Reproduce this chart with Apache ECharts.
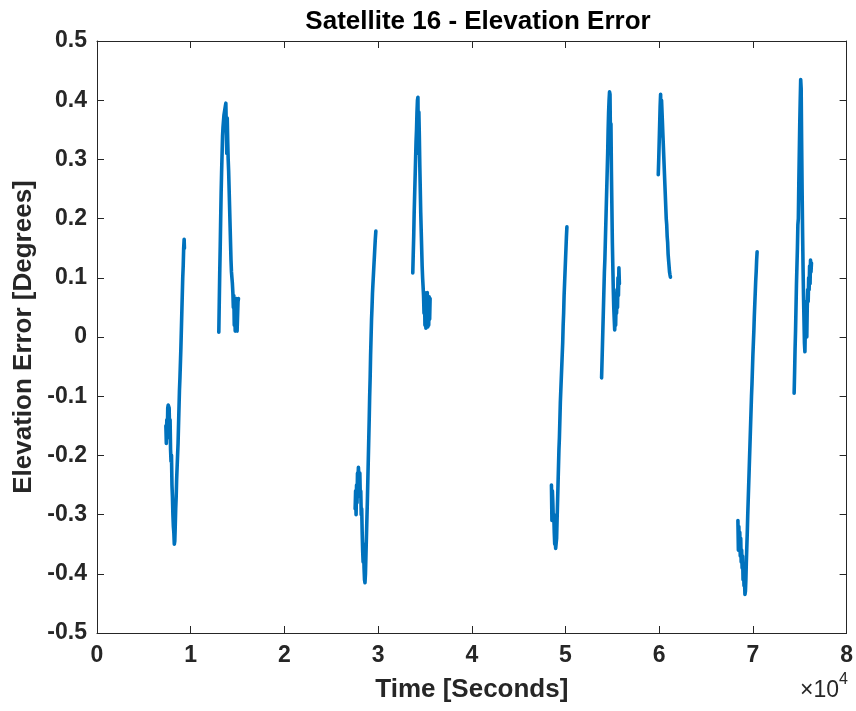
<!DOCTYPE html>
<html>
<head>
<meta charset="utf-8">
<script src="https://cdn.jsdelivr.net/npm/echarts@6/dist/echarts.min.js"></script>
<style>
  html, body { margin: 0; padding: 0; background: #ffffff; }
  #chart { width: 856px; height: 711px; }
</style>
</head>
<body>
<div id="chart"></div>
<script>
// Elevation error of satellite 16, one array per visible pass: [time (s), error (deg)]
const pass1 = [[7350,-0.15],[7400,-0.18],[7450,-0.14],[7500,-0.17],[7550,-0.12],[7600,-0.115],[7650,-0.112],[7700,-0.12],[7750,-0.16],[7800,-0.14],[7850,-0.19],[7900,-0.21],[7950,-0.20],[8000,-0.25],[8050,-0.27],[8100,-0.30],[8150,-0.32],[8200,-0.33],[8250,-0.35],[8300,-0.345],[8350,-0.32],[8400,-0.29],[8450,-0.27],[8500,-0.24],[8550,-0.22],[8600,-0.20],[8650,-0.18],[8700,-0.15],[8750,-0.12],[8800,-0.09],[8850,-0.07],[8900,-0.045],[8950,-0.02],[9000,0.01],[9050,0.04],[9100,0.07],[9150,0.10],[9200,0.12],[9250,0.15],[9300,0.165],[9330,0.15]];
const pass2 = [[13000,0.008],[13050,0.06],[13100,0.11],[13150,0.152],[13200,0.20],[13250,0.245],[13300,0.28],[13350,0.31],[13400,0.34],[13450,0.355],[13500,0.365],[13550,0.375],[13600,0.38],[13650,0.385],[13700,0.39],[13750,0.395],[13800,0.397],[13850,0.31],[13900,0.37],[13950,0.33],[14000,0.30],[14050,0.28],[14100,0.25],[14150,0.22],[14200,0.19],[14250,0.16],[14300,0.13],[14350,0.11],[14400,0.10],[14450,0.09],[14500,0.075],[14550,0.05],[14600,0.07],[14650,0.02],[14700,0.05],[14750,0.01],[14800,0.06],[14850,0.02],[14900,0.065],[14950,0.01],[15000,0.007],[15050,0.06],[15100,0.065]];
const pass3 = [[27550,-0.29],[27600,-0.26],[27650,-0.30],[27700,-0.25],[27750,-0.28],[27800,-0.23],[27850,-0.24],[27900,-0.22],[27950,-0.22],[28000,-0.25],[28050,-0.23],[28100,-0.27],[28150,-0.26],[28200,-0.30],[28250,-0.29],[28300,-0.33],[28350,-0.36],[28400,-0.38],[28450,-0.35],[28500,-0.39],[28550,-0.41],[28600,-0.415],[28650,-0.40],[28700,-0.37],[28750,-0.34],[28800,-0.31],[28850,-0.28],[28900,-0.245],[28950,-0.21],[29000,-0.175],[29050,-0.14],[29100,-0.10],[29150,-0.07],[29200,-0.03],[29250,0.0],[29300,0.03],[29350,0.05],[29400,0.074],[29450,0.09],[29500,0.105],[29550,0.12],[29600,0.135],[29650,0.15],[29700,0.165],[29760,0.179]];
const pass4 = [[33700,0.108],[33750,0.14],[33800,0.17],[33850,0.21],[33900,0.24],[33950,0.27],[34000,0.30],[34050,0.33],[34100,0.35],[34150,0.38],[34200,0.40],[34250,0.405],[34300,0.31],[34350,0.38],[34400,0.34],[34450,0.29],[34500,0.25],[34550,0.21],[34600,0.18],[34650,0.15],[34700,0.12],[34750,0.10],[34800,0.085],[34850,0.07],[34900,0.04],[34950,0.075],[35000,0.02],[35050,0.06],[35100,0.015],[35150,0.07],[35200,0.02],[35250,0.075],[35300,0.017],[35350,0.06],[35400,0.02],[35450,0.068],[35500,0.03],[35550,0.065]];
const pass5 = [[48500,-0.25],[48550,-0.31],[48600,-0.26],[48650,-0.28],[48700,-0.31],[48750,-0.30],[48800,-0.33],[48850,-0.35],[48900,-0.34],[48950,-0.357],[49000,-0.357],[49050,-0.34],[49100,-0.31],[49150,-0.28],[49200,-0.25],[49250,-0.22],[49300,-0.19],[49350,-0.17],[49400,-0.14],[49450,-0.11],[49500,-0.09],[49550,-0.07],[49600,-0.05],[49650,-0.03],[49700,-0.01],[49750,0.02],[49800,0.04],[49850,0.07],[49900,0.09],[49950,0.11],[50000,0.13],[50050,0.15],[50100,0.17],[50150,0.186]];
const pass6 = [[53850,-0.069],[53900,-0.04],[53950,-0.01],[54000,0.02],[54050,0.05],[54100,0.08],[54150,0.11],[54200,0.13],[54250,0.16],[54300,0.19],[54350,0.22],[54400,0.25],[54450,0.28],[54500,0.31],[54550,0.35],[54600,0.38],[54650,0.40],[54700,0.414],[54750,0.41],[54800,0.33],[54850,0.36],[54900,0.28],[54950,0.22],[55000,0.16],[55050,0.12],[55100,0.08],[55150,0.05],[55200,0.03],[55250,0.012],[55300,0.04],[55350,0.02],[55400,0.06],[55450,0.04],[55500,0.08],[55550,0.05],[55600,0.10],[55650,0.07],[55700,0.117],[55750,0.09]];
const pass7 = [[59900,0.274],[59950,0.30],[60000,0.33],[60050,0.36],[60100,0.39],[60150,0.41],[60200,0.34],[60250,0.40],[60300,0.38],[60350,0.36],[60400,0.34],[60450,0.32],[60500,0.30],[60550,0.28],[60600,0.26],[60650,0.24],[60700,0.22],[60750,0.20],[60800,0.19],[60850,0.17],[60900,0.16],[60950,0.14],[61000,0.13],[61050,0.12],[61100,0.11],[61150,0.105],[61200,0.101]];
const pass8 = [[68400,-0.31],[68450,-0.36],[68500,-0.32],[68550,-0.35],[68600,-0.33],[68650,-0.37],[68700,-0.34],[68750,-0.38],[68800,-0.36],[68850,-0.39],[68900,-0.37],[68950,-0.41],[69000,-0.39],[69050,-0.42],[69100,-0.41],[69150,-0.435],[69200,-0.43],[69250,-0.41],[69300,-0.38],[69350,-0.355],[69400,-0.33],[69450,-0.30],[69500,-0.275],[69550,-0.25],[69600,-0.225],[69650,-0.20],[69700,-0.175],[69750,-0.15],[69800,-0.125],[69850,-0.10],[69900,-0.08],[69950,-0.055],[70000,-0.03],[70050,-0.01],[70100,0.01],[70150,0.035],[70200,0.055],[70250,0.075],[70300,0.095],[70350,0.11],[70400,0.13],[70450,0.144]];
const pass9 = [[74400,-0.095],[74450,-0.06],[74500,-0.02],[74550,0.01],[74600,0.05],[74650,0.09],[74700,0.12],[74750,0.15],[74800,0.19],[74850,0.20],[74900,0.26],[74950,0.31],[75000,0.36],[75050,0.40],[75100,0.435],[75150,0.42],[75200,0.33],[75250,0.25],[75300,0.18],[75350,0.12],[75400,0.07],[75450,0.03],[75500,-0.01],[75550,-0.025],[75600,0.02],[75650,0.06],[75700,0.02],[75750,0.0],[75800,0.05],[75850,0.08],[75900,0.06],[75950,0.10],[76000,0.08],[76050,0.12],[76100,0.09],[76150,0.13],[76200,0.11],[76250,0.125]];

const passes = [pass1, pass2, pass3, pass4, pass5, pass6, pass7, pass8, pass9];

// Tick labels (x axis shown in units of 10^4 seconds)
const xTickLabels = ['0', '1', '2', '3', '4', '5', '6', '7', '8'];
const yTickLabels = ['-0.5', '-0.4', '-0.3', '-0.2', '-0.1', '0', '0.1', '0.2', '0.3', '0.4', '0.5'];

const titleText = 'Satellite 16 - Elevation Error';
const xName = 'Time [Seconds]';
const yName = 'Elevation Error [Degrees]';

const FONT = '"Liberation Sans", Arial, Helvetica, sans-serif';
const AX = '#262626';
const LINE = '#0072BD';
const TICK_FS = 23;
const LABEL_FS = 26;

const chart = echarts.init(document.getElementById('chart'), null, { renderer: 'canvas' });

const axisCommon = {
  axisLine: { show: true, onZero: false, lineStyle: { color: AX, width: 1 } },
  axisTick: { show: true, inside: true, length: 7, lineStyle: { color: AX, width: 1 } },
  splitLine: { show: false }
};

const option = {
  animation: false,
  backgroundColor: '#ffffff',
  title: {
    text: titleText,
    left: 473, top: 4, textAlign: 'center',
    textStyle: { fontFamily: FONT, fontWeight: 'bold', fontSize: LABEL_FS, color: '#000000' }
  },
  grid: { left: 97, right: 7, top: 41, bottom: 78, containLabel: false },
  xAxis: [
    Object.assign({
      type: 'value', min: 0, max: 80000, interval: 10000, position: 'bottom',
      name: xName, nameLocation: 'middle', nameGap: 44,
      nameTextStyle: { fontFamily: FONT, fontWeight: 'bold', fontSize: LABEL_FS, color: AX },
      axisLabel: {
        margin: 11, fontFamily: FONT, fontWeight: 'bold', fontSize: TICK_FS, color: AX,
        formatter: (v) => xTickLabels[Math.round(v / 10000)]
      }
    }, axisCommon),
    Object.assign({
      type: 'value', min: 0, max: 80000, interval: 10000, position: 'top',
      axisLabel: { show: false }
    }, axisCommon)
  ],
  yAxis: [
    Object.assign({
      type: 'value', min: -0.5, max: 0.5, interval: 0.1, position: 'left',
      name: yName, nameLocation: 'middle', nameGap: 57,
      nameTextStyle: { fontFamily: FONT, fontWeight: 'bold', fontSize: LABEL_FS, color: AX },
      axisLabel: {
        margin: 10, fontFamily: FONT, fontWeight: 'bold', fontSize: TICK_FS, color: AX,
        formatter: (v) => yTickLabels[Math.round((v + 0.5) * 10)]
      }
    }, axisCommon),
    Object.assign({
      type: 'value', min: -0.5, max: 0.5, interval: 0.1, position: 'right',
      axisLabel: { show: false }
    }, axisCommon)
  ],
  graphic: [{
    type: 'text', right: 8, top: 672,
    style: {
      text: '{m|×10}{s|4}',
      rich: {
        m: { fontFamily: FONT, fontSize: 23, fontWeight: 'normal', fill: AX, verticalAlign: 'bottom' },
        s: { fontFamily: FONT, fontSize: 16, fontWeight: 'normal', fill: AX, padding: [0, 0, 14, 0] }
      }
    }
  }],
  series: passes.map((p) => ({
    type: 'line',
    xAxisIndex: 0, yAxisIndex: 0,
    data: p,
    showSymbol: false,
    smooth: false,
    lineStyle: { color: LINE, width: 3.6, join: 'round', cap: 'round' },
    itemStyle: { color: LINE },
    emphasis: { disabled: true },
    clip: true
  }))
};

chart.setOption(option);
</script>
</body>
</html>
